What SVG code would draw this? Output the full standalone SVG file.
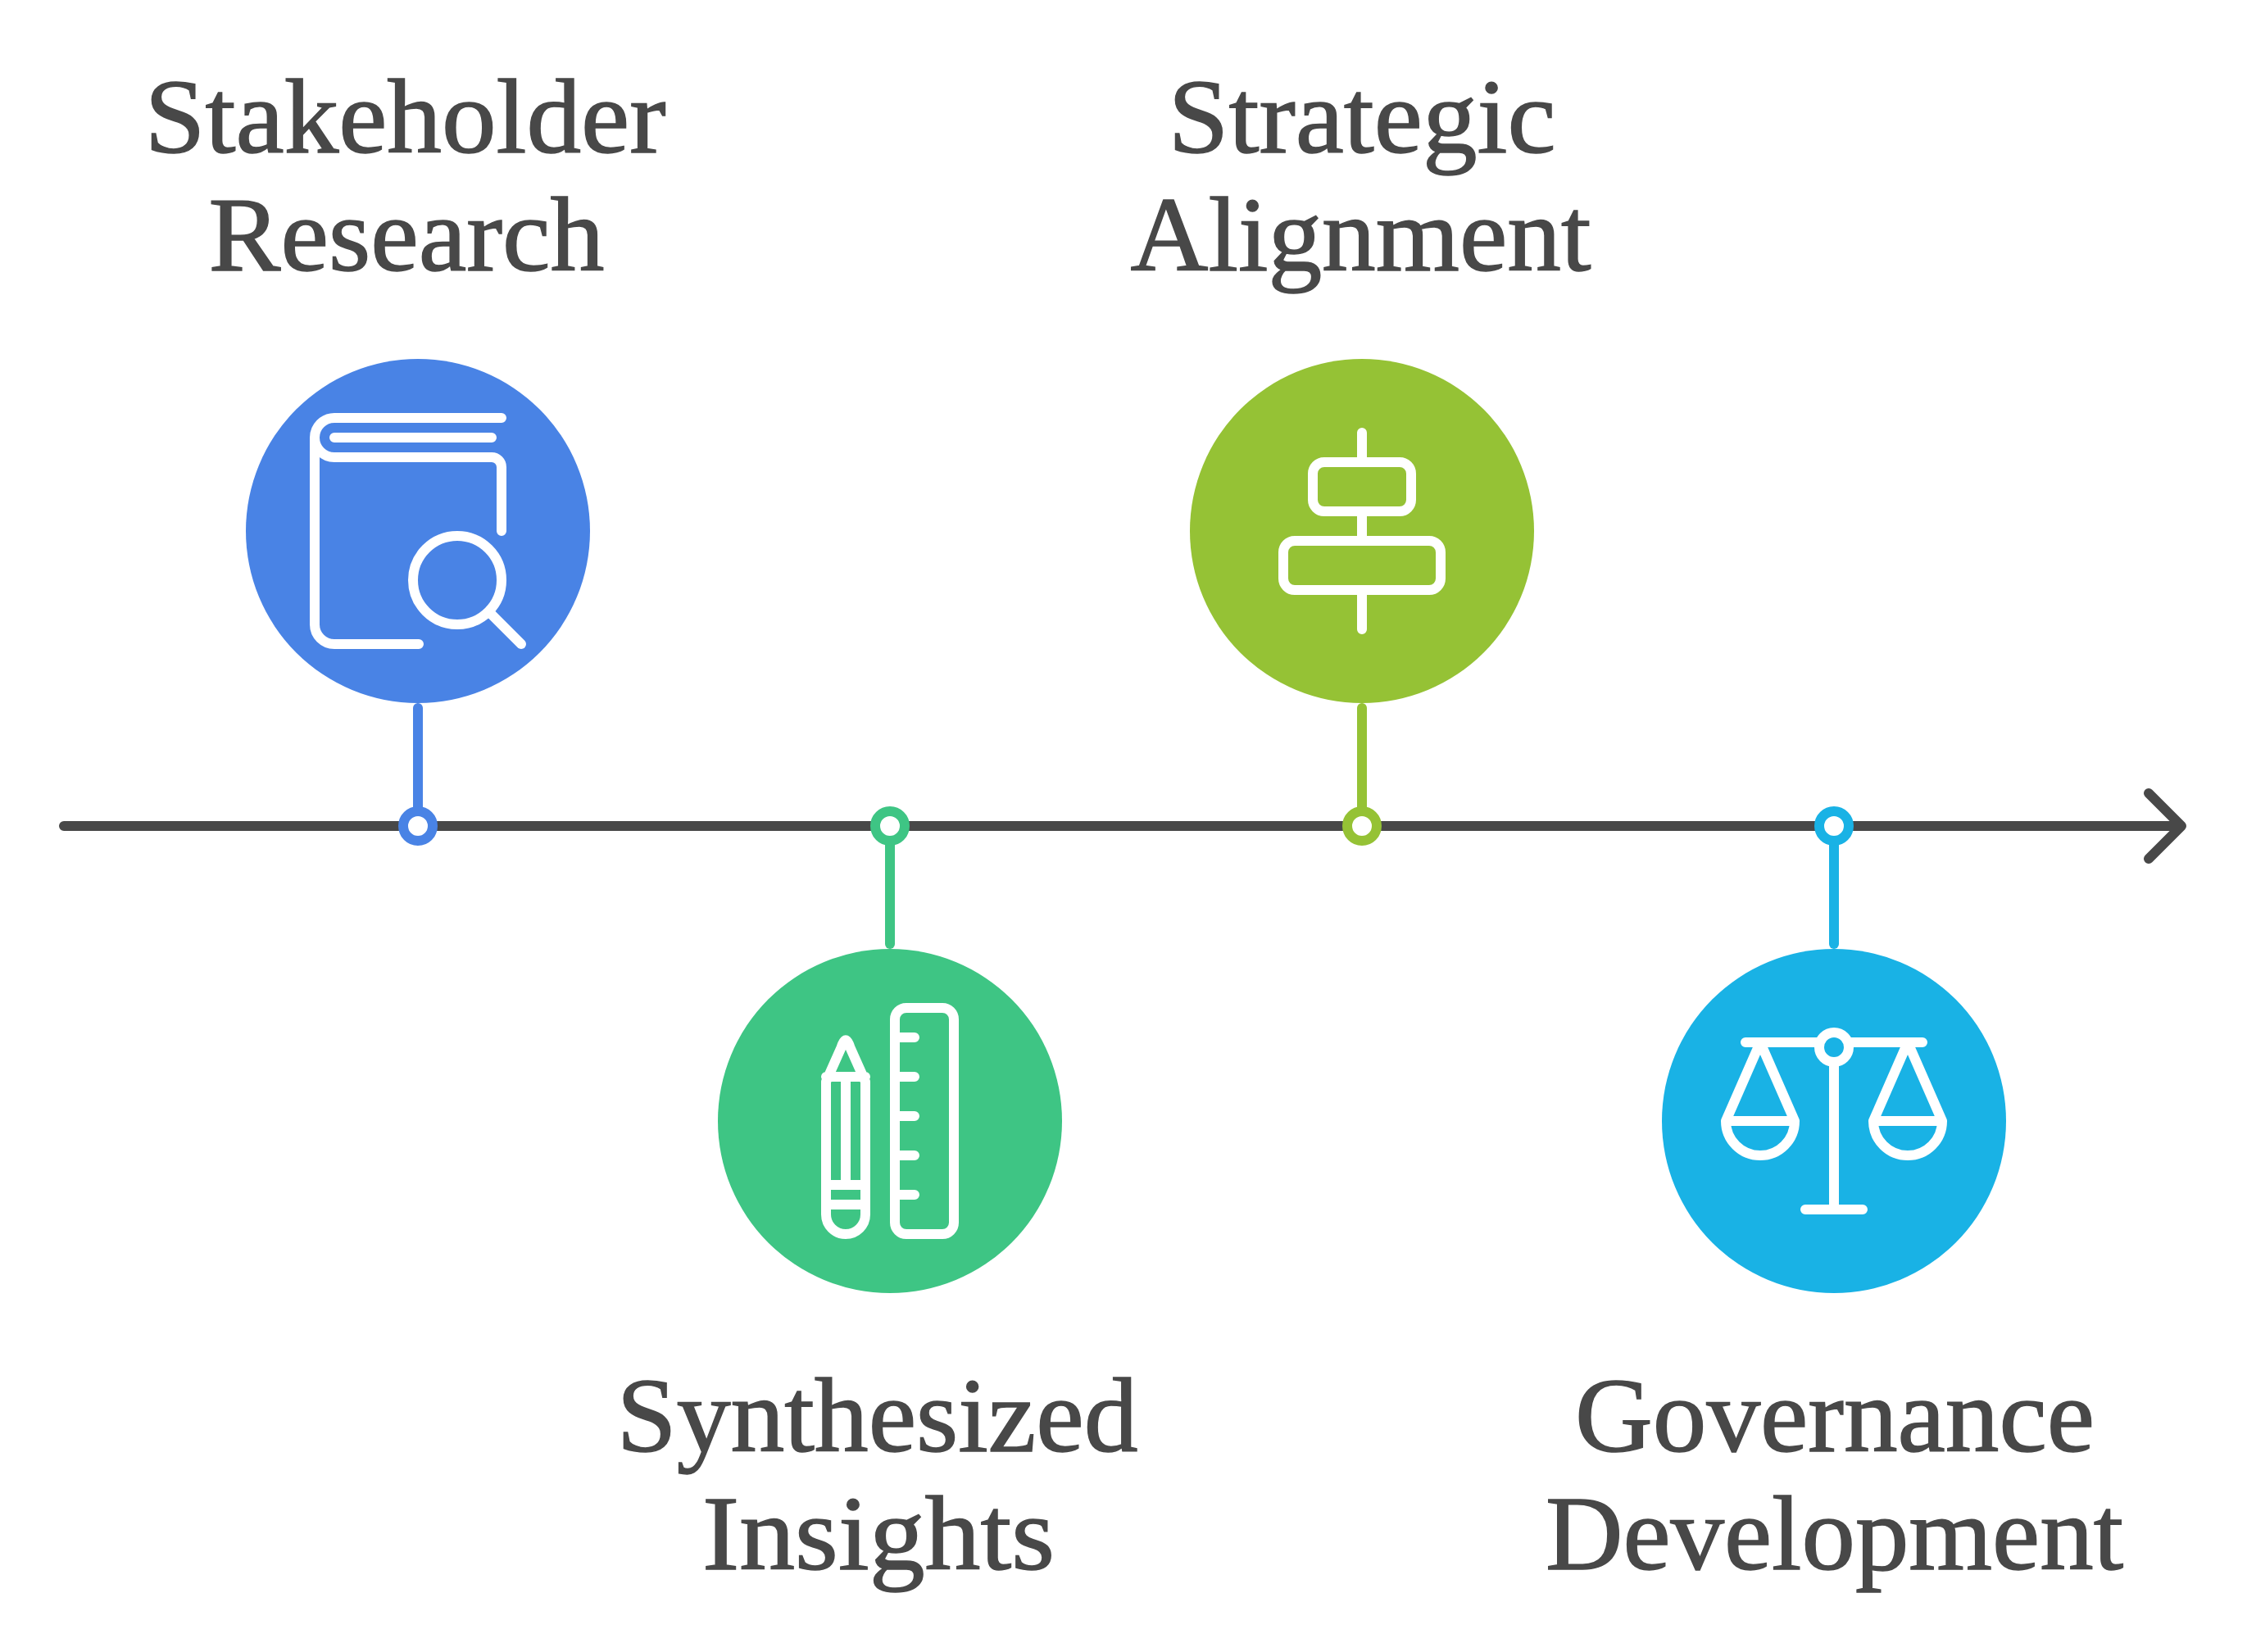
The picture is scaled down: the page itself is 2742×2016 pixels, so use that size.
<svg xmlns="http://www.w3.org/2000/svg" width="2742" height="2016" viewBox="0 0 2742 2016">
<style>
.ico{fill:none;stroke:#fff;stroke-width:12;stroke-linecap:round;stroke-linejoin:round}
.lbl{font-family:"Liberation Serif","Times New Roman",serif;font-size:130px;fill:#484848;stroke:#484848;stroke-width:1.5;text-anchor:middle}
.ax{fill:none;stroke:#484848;stroke-width:12;stroke-linecap:round;stroke-linejoin:round}
.dot{fill:#fff;stroke-width:12}
.c{fill:none;stroke-width:12;stroke-linecap:round}
</style>
<rect width="2742" height="2016" fill="#fff"/>
<g id="connectors">
<path class="ax" d="M78 1008H2662M2622 968L2662 1008L2622 1048"/>
<path class="c" stroke="#4983e5" d="M510 864V990"/>
<path class="c" stroke="#3ec584" d="M1086 1026V1152"/>
<path class="c" stroke="#95c235" d="M1662 864V990"/>
<path class="c" stroke="#19b2e5" d="M2238 1026V1152"/>
<circle class="dot" stroke="#4983e5" cx="510" cy="1008" r="18"/>
<circle class="dot" stroke="#3ec584" cx="1086" cy="1008" r="18"/>
<circle class="dot" stroke="#95c235" cx="1662" cy="1008" r="18"/>
<circle class="dot" stroke="#19b2e5" cx="2238" cy="1008" r="18"/>
</g>
<g id="node-stakeholder-research">
<circle cx="510" cy="648" r="210" fill="#4983e5"/>
<path class="ico" d="M612 510H408A24 24 0 0 0 384 534V762A24 24 0 0 0 408 786H511M384 534A24 24 0 0 0 408 558H600A12 12 0 0 1 612 570V648M408 534H600"/>
<circle class="ico" cx="558" cy="708" r="54"/>
<path class="ico" d="M597 747L636 786"/>
<text class="lbl" x="494.500" y="186" textLength="636" lengthAdjust="spacingAndGlyphs">Stakeholder</text>
<text class="lbl" x="496" y="330" textLength="483" lengthAdjust="spacingAndGlyphs">Research</text>
</g>
<g id="node-synthesized-insights">
<circle cx="1086" cy="1368" r="210" fill="#3ec584"/>
<path class="ico" d="M1008 1320L1026.500 1278.500Q1032 1260 1037.500 1278.500L1056 1320V1482A24 24 0 0 1 1008 1482ZM1008 1314H1056M1032 1314V1446M1008 1446H1056M1008 1470H1056"/>
<rect class="ico" x="1092" y="1230" width="72" height="276" rx="14"/>
<path class="ico" d="M1092 1266H1116M1092 1314H1116M1092 1362H1116M1092 1410H1116M1092 1458H1116"/>
<text class="lbl" x="1070.500" y="1771" textLength="636" lengthAdjust="spacingAndGlyphs">Synthesized</text>
<text class="lbl" x="1072" y="1915" textLength="430" lengthAdjust="spacingAndGlyphs">Insights</text>
</g>
<g id="node-strategic-alignment">
<circle cx="1662" cy="648" r="210" fill="#95c235"/>
<rect class="ico" x="1602" y="564" width="120" height="60" rx="14"/>
<rect class="ico" x="1566" y="660" width="192" height="60" rx="14"/>
<path class="ico" d="M1662 528V564M1662 624V660M1662 720V768"/>
<text class="lbl" x="1662" y="186" textLength="473" lengthAdjust="spacingAndGlyphs">Strategic</text>
<text class="lbl" x="1660.500" y="330" textLength="562" lengthAdjust="spacingAndGlyphs">Alignment</text>
</g>
<g id="node-governance-development">
<circle cx="2238" cy="1368" r="210" fill="#19b2e5"/>
<path class="ico" d="M2130 1272H2220M2256 1272H2346M2238 1296V1476M2203 1476H2273"/>
<circle class="ico" cx="2238" cy="1278" r="18"/>
<path class="ico" d="M2106 1368L2148 1272L2190 1368ZM2190 1368A42 42 0 0 1 2106 1368M2286 1368L2328 1272L2370 1368ZM2370 1368A42 42 0 0 1 2286 1368"/>
<text class="lbl" x="2239" y="1771" textLength="634" lengthAdjust="spacingAndGlyphs">Governance</text>
<text class="lbl" x="2238.500" y="1915" textLength="705" lengthAdjust="spacingAndGlyphs">Development</text>
</g>
</svg>
